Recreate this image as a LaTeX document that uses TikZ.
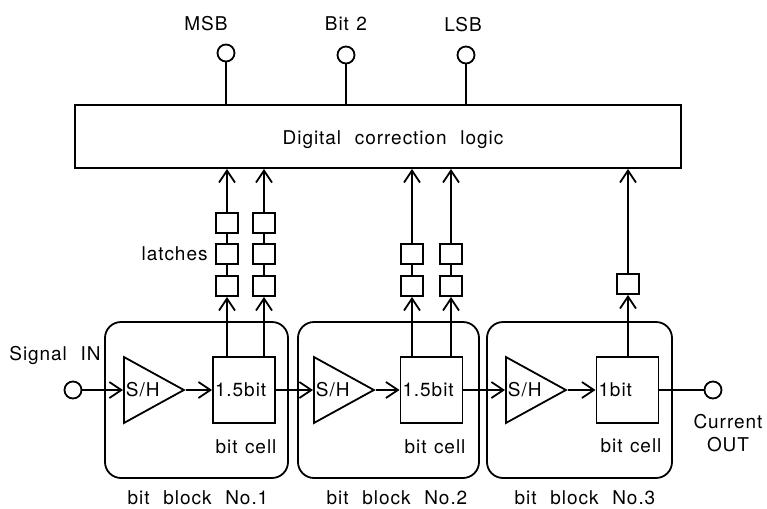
\documentclass[tikz,border=0pt]{standalone}
\usepackage{fontspec}
\setmainfont[LetterSpace=5,WordSpace=2.2]{TeX Gyre Heros}
\newfontfamily\tightfont[LetterSpace=5,WordSpace=1.2]{TeX Gyre Heros}
\usepackage{tikz}
\usetikzlibrary{arrows.meta, shapes.geometric, positioning}
\tikzset{>={Straight Barb[length=6pt,width=8pt]}}

\begin{document}
\begin{tikzpicture}[x=0.5pt, y=-0.5pt, line width=0.9pt, font=\fontsize{9.5}{11.5}\selectfont,
	blk/.style={draw, rounded corners=8pt, minimum height=78pt},
	cell/.style={draw, minimum height=33pt, text width=29pt, inner xsep=1pt, align=left},
	latch/.style={draw, minimum width=11pt, minimum height=10pt, inner sep=0pt},
	port/.style={draw, circle, minimum size=8.5pt, inner sep=0pt},
	amp/.style={draw, isosceles triangle, isosceles triangle stretches, minimum width=33pt, minimum height=30pt, inner sep=0pt, anchor=west, label={[anchor=west, inner sep=1pt]west:S/H}}]
		\useasboundingbox (0,0) rectangle (767,509);
		\node (logic) [draw, minimum width=303pt, minimum height=31.5pt] at (378,136.5) {};
		\node (tlogic) at (393,140) {Digital correction logic};
		\node (msb) [port] at (226,53) {}; \node (bit2) [port] at (346,55) {}; \node (lsb) [port] at (466,55) {};
		\draw (msb)--(msb |- logic.north); \draw (bit2)--(bit2 |- logic.north); \draw (lsb)--(lsb |- logic.north);
		\node (tmsb) at (206,24) {MSB}; \node (tbit2) at (346,24) {\tightfont Bit 2}; \node (tlsb) at (463,25) {LSB};
		% bit blocks
		\node (b1) [blk, minimum width=91.5pt] at (196.5,400) {};
		\node (b2) [blk, minimum width=90.5pt] at (388.5,400) {};
		\node (b3) [blk, minimum width=92.5pt] at (579.5,400) {};
		\node (sh1) [amp] at (123,390) {}; \node (sh2) [amp] at (313,390) {}; \node (sh3) [amp] at (505,390) {};
		\node (c1) [cell] at (244,390) {1.5bit};
		\node (c2) [cell] at (431.5,390) {1.5bit};
		\node (c3) [cell] at (627.5,390) {1bit};
		\node (in) [port] at (73,390) {}; \node (out) [port] at (713,390) {};
		\draw [->](in)--(sh1.west); \draw [->](sh1.apex)--(c1);
		\draw [->](c1)--(sh2.west); \draw [->](sh2.apex)--(c2);
		\draw [->](c2)--(sh3.west); \draw [->](sh3.apex)--(c3);
		\draw (c3)--(out);
		% latches
		\node (L11) [latch] at (227,286) {}; \node (L12) [latch] at (227,254) {}; \node (L13) [latch] at (227,223) {};
		\node (L21) [latch] at (264,286) {}; \node (L22) [latch] at (264,254) {}; \node (L23) [latch] at (264,223) {};
		\node (L31) [latch] at (412,286) {}; \node (L32) [latch] at (412,254) {};
		\node (L41) [latch] at (451,286) {}; \node (L42) [latch] at (451,254) {};
		\node (L51) [latch] at (628,284) {};
		\draw [->](L11 |- c1.north)--(L11); \draw (L11)--(L12)--(L13); \draw [->](L13)--(L13 |- logic.south);
		\draw [->](L21 |- c1.north)--(L21); \draw (L21)--(L22)--(L23); \draw [->](L23)--(L23 |- logic.south);
		\draw [->](L31 |- c2.north)--(L31); \draw (L31)--(L32); \draw [->](L32)--(L32 |- logic.south);
		\draw [->](L41 |- c2.north)--(L41); \draw (L41)--(L42); \draw [->](L42)--(L42 |- logic.south);
		\draw [->](L51 |- c3.north)--(L51); \draw [->](L51)--(L51 |- logic.south);
		\node (tlatch) [left=0pt of L12] {latches};
		% texts
		\node (tin) at (55,355) {Signal IN};
		\node (tout) [align=center] at (728,433) {Current\\OUT};
		\node (tc1) at (246,447) {\tightfont bit cell}; \node (tc2) at (435,447) {\tightfont bit cell}; \node (tc3) at (631,446) {\tightfont bit cell};
		\node (tb1) at (198,498) {bit block No.1};
		\node (tb2) at (397,498) {bit block No.2};
		\node (tb3) at (585,498) {bit block No.3};
\end{tikzpicture}
\end{document}
